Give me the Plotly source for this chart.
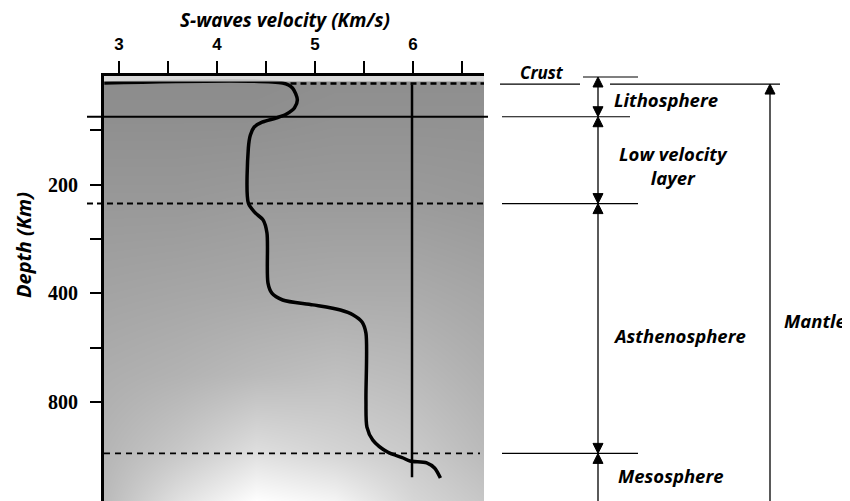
import numpy as np
import plotly.graph_objects as go

# ---------------- data ----------------
# S-wave velocity profile (km/s) vs depth (km)
vs_velocity = [2.85, 4.67, 4.77, 4.82, 4.79, 4.71, 4.61, 4.46, 4.38, 4.34, 4.32, 4.32,
               4.39, 4.47, 4.51, 4.52, 4.56, 4.67, 4.98, 5.26, 5.39, 5.48, 5.52, 5.52,
               5.53, 5.59, 5.74, 5.90, 5.97, 6.14, 6.22, 6.28]
vs_depth = [13, 13, 22, 44, 59, 70, 77, 85, 94, 109, 133, 234,
            252, 265, 289, 381, 400, 425, 443, 462, 480, 506, 547, 793,
            893, 941, 985, 1007, 1018, 1025, 1044, 1081]

# reference vertical line
ref_velocity = [5.99, 5.99]
ref_depth = [15, 1078]

# layer boundaries (km)
crust_base = 13
litho_base = 75
lvl_base = 235
astheno_base = 990

# axis ticks
x_tickvals = [3, 3.5, 4, 4.5, 5, 5.5, 6, 6.5]
x_ticktext = ["3", "", "4", "", "5", "", "6", ""]
y_tick_depths = [100, 200, 300, 400, 600, 800]
y_ticktext = ["", "200", "", "400", "", "800"]

# background halftone tone grid (0 = black, 1 = white)
tone_velocity = [2.85, 3.6, 4.4, 5.2, 6.0, 6.72]
tone_depth = [13, 76, 240, 400, 700, 980, 1170]
tone_levels = [
    [0.55, 0.55, 0.55, 0.56, 0.56, 0.56],
    [0.56, 0.56, 0.56, 0.57, 0.57, 0.57],
    [0.60, 0.60, 0.61, 0.61, 0.61, 0.60],
    [0.64, 0.65, 0.66, 0.67, 0.67, 0.65],
    [0.68, 0.70, 0.73, 0.75, 0.73, 0.69],
    [0.71, 0.78, 0.87, 0.83, 0.79, 0.73],
    [0.73, 0.88, 1.00, 0.96, 0.84, 0.78],
]

# ---------------- scale helpers ----------------
def depth_to_u(d):
    d = np.asarray(d, dtype=float)
    return np.where(d <= 400, d / 100.0, 4 + (d - 400) / 200.0)

PAGE_W, PAGE_H = 850, 501
OFF = 8                      # default page body margin
PL, PR, PT, PB = 104, 484, 76, 501   # plot area in page pixels
PW, PH = PR - PL, PB - PT
X_RANGE = [2.847, 2.847 + PW / 98.0]
U_MAX = PH / 54.3

def px_x(px):
    return (px - PL) / PW

def px_y(py):
    return (PB - py) / PH

def depth_py(d):
    return PT + float(depth_to_u(d)) * 54.3

fig = go.Figure()

# background shading
fig.add_trace(go.Heatmap(
    x=tone_velocity, y=depth_to_u(tone_depth), z=tone_levels,
    zmin=0, zmax=1, colorscale=[[0, "black"], [1, "white"]],
    zsmooth="best", showscale=False, hoverinfo="skip"))

# velocity curve
fig.add_trace(go.Scatter(
    x=vs_velocity, y=depth_to_u(vs_depth), mode="lines",
    line=dict(color="black", width=3.5, shape="spline", smoothing=0.8),
    showlegend=False))

# reference vertical line
fig.add_trace(go.Scatter(
    x=ref_velocity, y=depth_to_u(ref_depth), mode="lines",
    line=dict(color="black", width=2.5), showlegend=False))

shapes = []
# light crust strip
shapes.append(dict(type="rect", xref="paper", yref="y", x0=0, x1=1,
                   y0=0, y1=float(depth_to_u(crust_base - 3)),
                   fillcolor="rgba(235,235,235,0.8)", line=dict(width=0), layer="above"))
# crust base dashed line
shapes.append(dict(type="line", xref="x", yref="y", x0=4.75, x1=X_RANGE[1],
                   y0=float(depth_to_u(crust_base + 1)), y1=float(depth_to_u(crust_base + 1)),
                   line=dict(color="black", width=2.5, dash="6px,4px")))
# lithosphere base solid line
yl = px_y(depth_py(litho_base))
shapes.append(dict(type="line", xref="paper", yref="paper", x0=px_x(87), x1=px_x(488),
                   y0=yl, y1=yl, line=dict(color="black", width=2)))
# low velocity base dashed
yv = px_y(depth_py(lvl_base))
shapes.append(dict(type="line", xref="paper", yref="paper", x0=px_x(87), x1=px_x(487),
                   y0=yv, y1=yv, line=dict(color="black", width=2, dash="6px,4px")))
# asthenosphere base dashed
ya = px_y(depth_py(astheno_base))
shapes.append(dict(type="line", xref="paper", yref="paper", x0=px_x(104), x1=px_x(480),
                   y0=ya, y1=ya, line=dict(color="black", width=1.8, dash="6px,5px")))

# ---------------- right-hand layer diagram ----------------
def hline(x0, x1, py, w=1.2):
    shapes.append(dict(type="line", xref="paper", yref="paper",
                       x0=px_x(x0), x1=px_x(x1), y0=px_y(py), y1=px_y(py),
                       line=dict(color="black", width=w)))

def vline(px, py0, py1, w=1.3):
    shapes.append(dict(type="line", xref="paper", yref="paper",
                       x0=px_x(px), x1=px_x(px), y0=px_y(py0), y1=px_y(py1),
                       line=dict(color="black", width=w)))

def head(px, tip, up=True, hw=5, hh=10):
    base = tip + hh if up else tip - hh
    path = "M {:.5f},{:.5f} L {:.5f},{:.5f} L {:.5f},{:.5f} Z".format(
        px_x(px), px_y(tip), px_x(px - hw), px_y(base), px_x(px + hw), px_y(base))
    shapes.append(dict(type="path", xref="paper", yref="paper", path=path,
                       fillcolor="black", line=dict(color="black", width=1)))

y_surf = depth_py(0) + 1
y_crust = depth_py(crust_base) + 1
y_lith = depth_py(litho_base)
y_lvl = depth_py(lvl_base)
y_ast = depth_py(astheno_base)

AX = 598
MX = 770
hline(583, 638, y_surf)
hline(500, 580, y_crust)
hline(610, 780, y_crust)
hline(502, 630, y_lith)
hline(502, 638, y_lvl)
hline(502, 638, y_ast)

# lithosphere
head(AX, y_surf, up=True)
head(AX, y_lith, up=False)
vline(AX, y_surf + 8, y_lith - 8)
# low velocity layer
head(AX, y_lith, up=True)
head(AX, y_lvl, up=False)
vline(AX, y_lith + 8, y_lvl - 8)
# asthenosphere
head(AX, y_lvl, up=True)
head(AX, y_ast, up=False)
vline(AX, y_lvl + 8, y_ast - 8)
# mesosphere
head(AX, y_ast, up=True)
vline(AX, y_ast + 8, PAGE_H)
# mantle
head(MX, y_crust, up=True)
vline(MX, y_crust + 8, PAGE_H)

lab_font = dict(family="Open Sans", size=18, color="black", weight="bold", style="italic")

def label(text, px, py, anchor="left", size=18, align="left", angle=0):
    f = dict(lab_font)
    f["size"] = size
    return dict(text=text, xref="paper", yref="paper", x=px_x(px), y=px_y(py),
                xanchor=anchor, yanchor="middle", showarrow=False, font=f, align=align,
                textangle=angle)

annotations = [
    label("Crust", 542, 73, "center", 17),
    label("Lithosphere", 612, (y_surf + y_lith) / 2 + 3, size=18.5),
    label("Low velocity<br>layer", 673, 165, "center", align="center", size=18.5),
    label("Asthenosphere", 611, 335, size=18.5),
    label("Mesosphere", 616, 475, size=18.5),
    label("Mantle", 782, 320, size=18.5),
    label("S-waves velocity (Km/s)", 285, 20, "center", size=19),
    label("Depth (Km)", 23, 245, "center", size=20, angle=-90),
]

fig.update_layout(
    width=PAGE_W - OFF, height=PAGE_H - OFF,
    margin=dict(l=PL - OFF, r=PAGE_W - PR, t=PT - OFF, b=PAGE_H - PB, pad=0),
    paper_bgcolor="white", plot_bgcolor="white",
    shapes=shapes, annotations=annotations, showlegend=False,
    xaxis=dict(side="top", range=X_RANGE, tickvals=x_tickvals, ticktext=x_ticktext,
               ticks="outside", ticklen=12, tickwidth=2, tickcolor="black",
               showline=True, linewidth=3, linecolor="black", mirror=False,
               showgrid=False, zeroline=False, ticklabelstandoff=4, automargin=False,
               tickfont=dict(family="Liberation Sans", size=17, color="black", weight="bold")),
    yaxis=dict(range=[U_MAX, 0], tickvals=list(depth_to_u(y_tick_depths)), ticktext=y_ticktext,
               ticks="outside", ticklen=11, tickwidth=2, tickcolor="black",
               showline=True, linewidth=3, linecolor="black", automargin=False,
               showgrid=False, zeroline=False, ticklabelstandoff=8,
               tickfont=dict(family="Liberation Serif", size=20, color="black", weight="bold")),
)

fig.write_html("out.html")
